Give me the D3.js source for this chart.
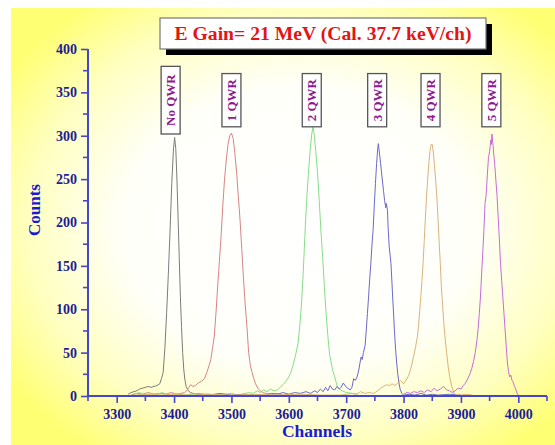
<!DOCTYPE html>
<html>
<head>
<meta charset="utf-8">
<script src="https://cdn.jsdelivr.net/npm/d3@7"></script>
<style>
html,body{margin:0;padding:0;background:#fff;}
svg{display:block;}
</style>
</head>
<body>
<svg id="chart" width="555" height="445"></svg>
<script>
// ---------- DATA ----------
const titleText = "E Gain= 21 MeV (Cal. 37.7 keV/ch)";
const seriesNames = ["No QWR", "1 QWR", "2 QWR", "3 QWR", "4 QWR", "5 QWR"];
const labelChannels = [3394, 3500, 3640, 3754, 3847, 3953];
const labelCount = 341;
const xTicks = [3300, 3400, 3500, 3600, 3700, 3800, 3900, 4000];
const yTicks = [0, 50, 100, 150, 200, 250, 300, 350, 400];
const xMinorTicks = [3250, 3350, 3450, 3550, 3650, 3750, 3850, 3950, 4050];
const yMinorTicks = [25, 75, 125, 175, 225, 275, 325, 375];

const noQWR = [[3320,2],[3325,4],[3330,5],[3335,6],[3340,8],[3345,9],[3350,10],[3355,11],[3360,10],[3365,11],
  [3370,12],[3375,14],[3378,20],[3381,27],[3384,55],[3387,95],[3390,140],[3393,190],[3396,245],[3399,285],
  [3401,298],[3403,285],[3405,250],[3407,205],[3409,160],[3411,115],[3413,80],[3415,50],[3417,30],[3419,18],
  [3421,11],[3424,7],[3428,4],[3433,3],[3438,2],[3445,3],[3452,1],[3460,2]];

const qwr1 = [[3325,1],[3335,3],[3345,2],[3355,4],[3365,2],[3375,3],[3385,2],[3395,4],[3405,2],[3412,3],
  [3418,4],[3422,6],[3426,10],[3429,13],[3433,11],[3437,12],[3442,15],[3448,17],[3453,20],[3457,27],
  [3461,35],[3464,42],[3467,55],[3470,68],[3473,95],[3476,126],[3479,155],[3482,185],[3485,220],[3488,250],
  [3491,272],[3494,290],[3497,300],[3500,303],[3503,297],[3506,280],[3509,258],[3512,230],[3515,203],[3518,170],
  [3521,135],[3524,105],[3527,80],[3530,50],[3533,35],[3536,27],[3539,20],[3542,14],[3546,9],[3550,6],
  [3555,4],[3560,3],[3570,2],[3580,3],[3590,1],[3600,2]];

const qwr2 = [[3330,2],[3340,4],[3350,1],[3360,3],[3370,2],[3380,4],[3390,1],[3400,3],[3410,2],[3420,1],
  [3440,3],[3460,2],[3480,1],[3500,3],[3510,1],[3520,2],[3530,4],[3538,3],[3545,6],[3550,4],[3556,7],
  [3562,5],[3568,8],[3574,6],[3580,7],[3585,10],[3590,13],[3595,17],[3600,22],[3604,28],[3608,37],
  [3612,48],[3616,60],[3619,80],[3622,105],[3625,140],[3628,185],[3631,225],[3634,255],[3637,282],[3640,302],
  [3642,310],[3644,303],[3647,282],[3650,258],[3653,225],[3656,190],[3659,160],[3662,126],[3665,95],[3668,70],
  [3671,48],[3674,38],[3677,28],[3680,22],[3684,12],[3688,8],[3693,6],[3700,4],[3710,3],[3720,2]];

const qwr3 = [[3440,2],[3460,1],[3480,3],[3500,1],[3520,2],[3540,1],[3560,1],[3570,3],[3580,2],[3590,4],
  [3600,2],[3610,4],[3620,3],[3630,5],[3638,3],[3645,6],[3650,4],[3655,8],[3660,5],[3664,10],[3668,6],
  [3672,12],[3676,8],[3680,7],[3684,11],[3688,8],[3691,10],[3695,15],[3699,11],[3703,9],[3707,7],[3710,10],
  [3713,20],[3716,18],[3719,22],[3722,30],[3724,38],[3726,45],[3728,42],[3730,50],[3733,58],[3735,76],
  [3737,95],[3739,114],[3741,135],[3743,153],[3745,175],[3747,192],[3749,220],[3751,245],[3753,268],[3755,285],
  [3756,291],[3758,280],[3760,268],[3762,255],[3765,237],[3767,225],[3769,217],[3770,222],[3772,214],[3773,195],
  [3775,172],[3778,153],[3780,128],[3781,114],[3783,90],[3784,76],[3786,55],[3788,38],[3790,25],[3792,15],
  [3794,8],[3797,3],[3800,1],[3810,2],[3820,1],[3830,3],[3840,1],[3850,2],[3860,1],[3880,2],[3900,1]];

const qwr4 = [[3330,3],[3345,1],[3360,2],[3380,1],[3400,2],[3430,1],[3460,2],[3500,1],[3540,2],[3580,1],
  [3620,2],[3660,1],[3690,1],[3700,2],[3710,3],[3718,2],[3725,5],[3732,3],[3740,4],[3748,3],[3755,6],
  [3760,9],[3765,11],[3770,13],[3775,12],[3780,14],[3785,12],[3790,15],[3795,18],[3800,14],[3803,17],
  [3806,20],[3809,24],[3812,30],[3815,38],[3818,47],[3821,57],[3824,68],[3826,80],[3828,97],[3830,114],
  [3832,133],[3834,153],[3836,178],[3838,205],[3840,230],[3842,250],[3844,268],[3846,282],[3848,290],[3850,290],
  [3852,280],[3854,265],[3856,248],[3858,230],[3860,205],[3862,178],[3864,153],[3866,125],[3868,105],[3870,85],
  [3872,70],[3875,50],[3878,33],[3881,20],[3884,11],[3887,4],[3890,2],[3900,1],[3910,2],[3920,1]];

const qwr5 = [[3800,2],[3806,4],[3812,3],[3818,5],[3824,4],[3830,6],[3836,4],[3842,7],[3848,5],[3853,9],
  [3858,6],[3864,8],[3870,11],[3875,7],[3880,6],[3885,4],[3890,6],[3895,9],[3900,8],[3904,12],[3908,15],
  [3912,20],[3916,26],[3919,32],[3922,40],[3925,50],[3928,65],[3930,78],[3932,95],[3934,114],[3936,140],
  [3938,165],[3940,191],[3942,222],[3944,232],[3946,255],[3948,275],[3950,282],[3952,295],[3953,290],[3954,302],
  [3956,289],[3957,280],[3959,266],[3961,248],[3963,230],[3965,205],[3967,180],[3969,153],[3971,133],[3973,114],
  [3975,95],[3977,76],[3979,57],[3981,38],[3983,28],[3985,22],[3987,24],[3989,18],[3991,16],[3993,12],
  [3996,7],[3998,3],[4000,1]];

const seriesData = [noQWR, qwr1, qwr2, qwr3, qwr4, qwr5];
const seriesColors = ["#7c7c7c", "#d88484", "#88dc88", "#6a6ac8", "#dcb27a", "#c86cd6"];

// ---------- DRAW ----------
const svg = d3.select("#chart");
const W = 555, H = 445;
const serif = "'Liberation Serif','Times New Roman',Times,serif";

const defs = svg.append("defs");
const grad = defs.append("radialGradient").attr("id", "bg")
  .attr("cx", 0.53).attr("cy", 0.5).attr("r", 0.64).attr("fx", 0.53).attr("fy", 0.5);
grad.append("stop").attr("offset", 0).attr("stop-color", "#ffffff");
grad.append("stop").attr("offset", 0.5).attr("stop-color", "#fffffa");
grad.append("stop").attr("offset", 0.78).attr("stop-color", "#ffffc0");
grad.append("stop").attr("offset", 1).attr("stop-color", "#ffff74");

svg.append("rect").attr("x", 0).attr("y", 0).attr("width", W).attr("height", H).attr("fill", "#fff");
svg.append("rect").attr("x", 11).attr("y", 8).attr("width", W - 11).attr("height", H - 8).attr("fill", "url(#bg)");

const x = d3.scaleLinear().domain([3250, 4050]).range([88, 547]);
const y = d3.scaleLinear().domain([0, 400]).range([396, 49]);

// Title box
const tb = {x: 160, y: 18, w: 326, h: 31};
svg.append("rect").attr("x", tb.x + 6).attr("y", tb.y + 6).attr("width", tb.w).attr("height", tb.h).attr("fill", "#000");
svg.append("rect").attr("x", tb.x).attr("y", tb.y).attr("width", tb.w).attr("height", tb.h)
  .attr("fill", "#fff").attr("stroke", "#777").attr("stroke-width", 1.2);
svg.append("text").attr("x", tb.x + tb.w / 2).attr("y", 40).attr("text-anchor", "middle")
  .attr("font-family", serif).attr("font-weight", "bold").attr("font-size", 18)
  .attr("fill", "#e31414").attr("textLength", 297).attr("lengthAdjust", "spacingAndGlyphs")
  .text(titleText);

// Series lines
const line = d3.line().x(d => x(d[0])).y(d => y(d[1]));
svg.append("g").selectAll("path").data(seriesData).join("path")
  .attr("d", line).attr("fill", "none")
  .attr("stroke", (d, i) => seriesColors[i]).attr("stroke-width", 1);

// Peak labels
const lg = svg.append("g");
seriesNames.forEach((name, i) => {
  const cx = x(labelChannels[i]), cy = y(labelCount);
  const g = lg.append("g").attr("transform", `translate(${cx},${cy})`);
  const rect = g.append("rect");
  const t = g.append("text").attr("transform", "rotate(-90)")
    .attr("text-anchor", "middle").attr("dy", "0.35em")
    .attr("font-family", serif).attr("font-weight", "bold").attr("font-size", 13)
    .attr("fill", "#8e1a8e").text(name);
  const len = t.node().getComputedTextLength();
  const h = len + (i === 0 ? 16 : 11), w = 19;
  rect.attr("x", -w / 2).attr("y", -h / 2).attr("width", w).attr("height", h)
    .attr("fill", "#fff").attr("stroke", "#555").attr("stroke-width", 1.3);
});

// Axes
const axisColor = "#4646c8";
const labelColor = "#1c1c96";
const xAxis = svg.append("g").attr("transform", `translate(0,${y(0)})`)
  .call(d3.axisBottom(x).tickValues(xTicks).tickSize(7).tickPadding(6).tickFormat(d3.format("d")));
xAxis.append("g").selectAll("line").data(xMinorTicks).join("line")
  .attr("x1", d => x(d)).attr("x2", d => x(d)).attr("y1", 0).attr("y2", 5);
const yAxis = svg.append("g").attr("transform", `translate(${x(3250)},0)`)
  .call(d3.axisLeft(y).tickValues(yTicks).tickSize(7).tickPadding(4).tickFormat(d3.format("d")));
yAxis.append("g").selectAll("line").data(yMinorTicks).join("line")
  .attr("x1", 0).attr("x2", -5).attr("y1", d => y(d)).attr("y2", d => y(d));

[xAxis, yAxis].forEach(a => {
  a.select(".domain").attr("stroke", axisColor).attr("stroke-width", 2);
  a.selectAll("line").attr("stroke", axisColor).attr("stroke-width", 1.6);
  a.selectAll("text").attr("font-family", serif).attr("font-weight", "bold")
    .attr("font-size", 14).attr("fill", labelColor);
});
xAxis.select(".domain").attr("d", `M${x(3250)},0H${x(4050)}`);
yAxis.select(".domain").attr("d", `M0,${y(400)}V${y(0)}`);

// Axis titles
svg.append("text").attr("x", 317).attr("y", 437).attr("text-anchor", "middle")
  .attr("font-family", serif).attr("font-weight", "bold").attr("font-size", 17.5)
  .attr("fill", "#1a1ad0").text("Channels");
svg.append("text").attr("transform", "translate(40,210) rotate(-90)").attr("text-anchor", "middle")
  .attr("font-family", serif).attr("font-weight", "bold").attr("font-size", 17)
  .attr("fill", "#1a1ad0").text("Counts");
</script>
</body>
</html>
